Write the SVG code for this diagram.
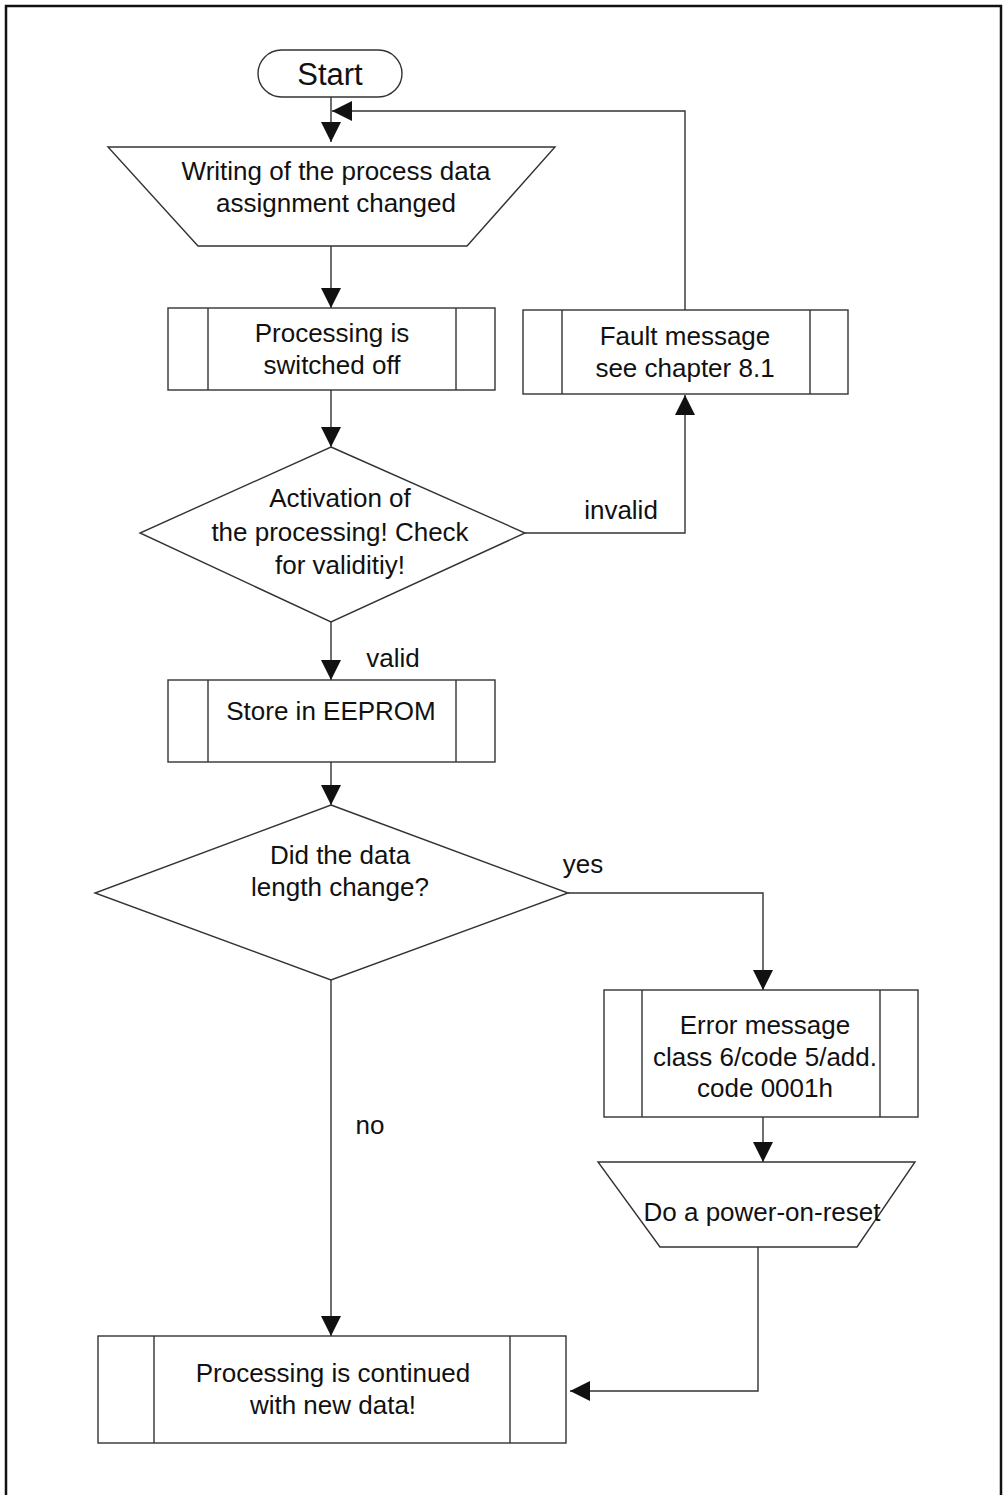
<svg xmlns="http://www.w3.org/2000/svg" width="1003" height="1495" viewBox="0 0 1003 1495">
  <style>
    .shape { fill: #fff; stroke: #333; stroke-width: 1.4; }
    .wire { fill: none; stroke: #333; stroke-width: 1.4; }
    .t { font-family: "Liberation Sans", Arial, sans-serif; font-size: 26px; fill: #111; text-anchor: middle; }
    .lbl { font-family: "Liberation Sans", Arial, sans-serif; font-size: 26px; fill: #111; text-anchor: middle; }
  </style>
  <defs>
    <marker id="arrow" viewBox="0 0 20 20" refX="20" refY="10" markerWidth="20" markerHeight="20" markerUnits="userSpaceOnUse" orient="auto">
      <path d="M0,0 L20,10 L0,20 Z" fill="#111"/>
    </marker>
  </defs>

  <rect width="1003" height="1495" fill="#fff"/>
  <!-- page frame -->
  <path d="M6,1500 V6 H1001 V1500" fill="none" stroke="#111" stroke-width="2.5"/>

  <!-- connectors -->
  <g id="connectors">
    <path class="wire" d="M331,97 V142" marker-end="url(#arrow)"/>
    <path class="wire" d="M685,310 V111 H332" marker-end="url(#arrow)"/>
    <path class="wire" d="M331,246 V308" marker-end="url(#arrow)"/>
    <path class="wire" d="M331,390 V447" marker-end="url(#arrow)"/>
    <path class="wire" d="M525,533 H685 V395" marker-end="url(#arrow)"/>
    <path class="wire" d="M331,622 V680" marker-end="url(#arrow)"/>
    <path class="wire" d="M331,762 V805" marker-end="url(#arrow)"/>
    <path class="wire" d="M568,893 H763 V990" marker-end="url(#arrow)"/>
    <path class="wire" d="M763,1117 V1162" marker-end="url(#arrow)"/>
    <path class="wire" d="M758,1247 V1391 H570" marker-end="url(#arrow)"/>
    <path class="wire" d="M331,980 V1336" marker-end="url(#arrow)"/>
    <text class="lbl" x="621" y="519">invalid</text>
    <text class="lbl" x="393" y="667">valid</text>
    <text class="lbl" x="583" y="873">yes</text>
    <text class="lbl" x="370" y="1134">no</text>
  </g>

  <g id="start">
    <rect class="shape" x="258" y="50" width="144" height="47" rx="23.5" ry="23.5"/>
    <text class="t" x="330" y="85" style="font-size:31px">Start</text>
  </g>

  <g id="write-assignment">
    <path class="shape" d="M108,147 H555 L467,246 H198 Z"/>
    <text class="t" x="336" y="180">Writing of the process data</text>
    <text class="t" x="336" y="212">assignment changed</text>
  </g>

  <g id="processing-off">
    <rect class="shape" x="168" y="308" width="327" height="82"/>
    <path class="wire" d="M208,308 V390 M456,308 V390"/>
    <text class="t" x="332" y="342">Processing is</text>
    <text class="t" x="332" y="374">switched off</text>
  </g>

  <g id="fault-message">
    <rect class="shape" x="523" y="310" width="325" height="84"/>
    <path class="wire" d="M562,310 V394 M810,310 V394"/>
    <text class="t" x="685" y="345">Fault message</text>
    <text class="t" x="685" y="377">see chapter 8.1</text>
  </g>

  <g id="check-validity">
    <path class="shape" d="M331,447 L525,533 L331,622 L140,533 Z"/>
    <text class="t" x="340" y="507">Activation of</text>
    <text class="t" x="340" y="541">the processing! Check</text>
    <text class="t" x="340" y="574">for validitiy!</text>
  </g>

  <g id="store-eeprom">
    <rect class="shape" x="168" y="680" width="327" height="82"/>
    <path class="wire" d="M208,680 V762 M456,680 V762"/>
    <text class="t" x="331" y="720">Store in EEPROM</text>
  </g>

  <g id="length-changed">
    <path class="shape" d="M331,805 L568,893 L331,980 L95,893 Z"/>
    <text class="t" x="340" y="864">Did the data</text>
    <text class="t" x="340" y="896">length change?</text>
  </g>

  <g id="error-message">
    <rect class="shape" x="604" y="990" width="314" height="127"/>
    <path class="wire" d="M642,990 V1117 M880,990 V1117"/>
    <text class="t" x="765" y="1034">Error message</text>
    <text class="t" x="765" y="1066">class 6/code 5/add.</text>
    <text class="t" x="765" y="1097">code 0001h</text>
  </g>

  <g id="power-on-reset">
    <path class="shape" d="M598,1162 H915 L857,1247 H660 Z"/>
    <text class="t" x="762" y="1221">Do a power-on-reset</text>
  </g>

  <g id="processing-continued">
    <rect class="shape" x="98" y="1336" width="468" height="107"/>
    <path class="wire" d="M154,1336 V1443 M510,1336 V1443"/>
    <text class="t" x="333" y="1382">Processing is continued</text>
    <text class="t" x="333" y="1414">with new data!</text>
  </g>
</svg>
